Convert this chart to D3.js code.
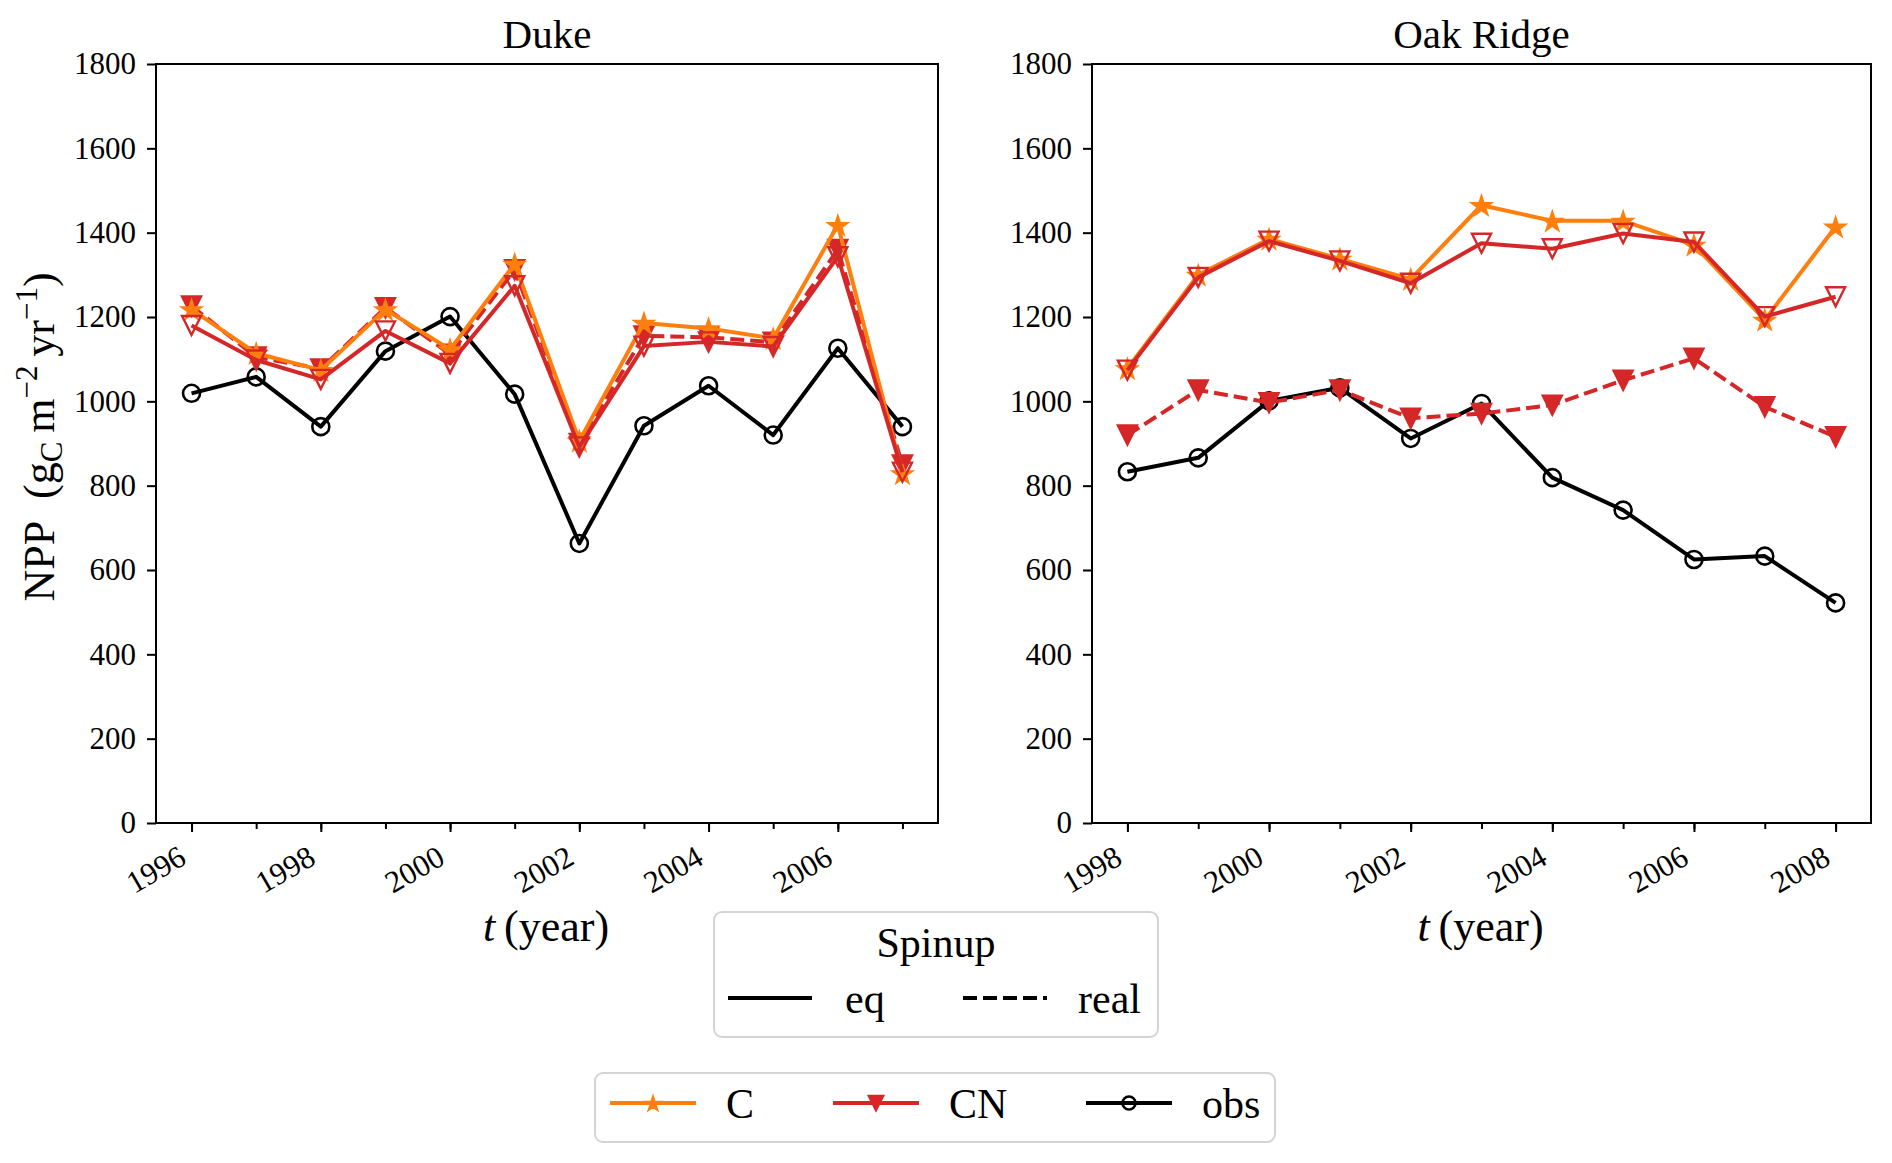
<!DOCTYPE html>
<html>
<head>
<meta charset="utf-8">
<script src="https://cdn.jsdelivr.net/npm/d3@7/dist/d3.min.js"></script>
<style>
  body { margin: 0; background: #fff; }
  svg { display: block; font-family: "Liberation Serif", "DejaVu Serif", serif; }
</style>
</head>
<body>
<svg id="chart" width="1892" height="1163"></svg>
<script>
// values (NPP, gC m-2 yr-1)
const dukeYears = [1996, 1997, 1998, 1999, 2000, 2001, 2002, 2003, 2004, 2005, 2006, 2007]
const dukeObs = [1019, 1058, 940, 1119, 1201, 1017, 663, 942, 1037, 920, 1126, 940]
const dukeC = [1218, 1114, 1074, 1218, 1123, 1326, 906, 1186, 1173, 1149, 1418, 829]
const dukeCNeq = [1180, 1098, 1052, 1167, 1090, 1274, 892, 1131, 1141, 1130, 1343, 832]
const dukeCNreal = [1226, 1105, 1077, 1222, 1112, 1312, 900, 1155, 1152, 1140, 1360, 849]

const oakYears = [1998, 1999, 2000, 2001, 2002, 2003, 2004, 2005, 2006, 2007, 2008]
const oakObs = [833, 866, 1001, 1032, 912, 995, 819, 742, 625, 633, 522]
const oakC = [1078, 1300, 1385, 1338, 1290, 1465, 1428, 1428, 1371, 1193, 1414]
const oakCNeq = [1074, 1294, 1380, 1333, 1280, 1375, 1362, 1398, 1378, 1201, 1248]
const oakCNreal = [920, 1027, 997, 1027, 960, 971, 991, 1050, 1102, 987, 916]

const yTicks = [0, 200, 400, 600, 800, 1000, 1200, 1400, 1600, 1800]
const dukeLabelYears = [1996, 1998, 2000, 2002, 2004, 2006]
const oakLabelYears = [1998, 2000, 2002, 2004, 2006, 2008]

const modelNames = ['C', 'CN', 'obs']
const spinupNames = ['eq', 'real']

const orange = '#ff7f0e', red = '#d62728'
const dash = '14,6'
const lineW = 4

const svg = d3.select('#chart')
const plotTop = 64, plotBottom = 823

const y = d3.scaleLinear().domain([0, 1800]).range([plotBottom, plotTop])

function marker(g, kind, cx, cy, color, small) {
    let s = small ? 0.75 : 1
    if (kind == 'star') {
        g.append('path')
            .attr('d', d3.symbol(d3.symbolStar, 135 * s * s)())
            .attr('transform', `translate(${cx},${cy + 1})`)
            .attr('fill', color).attr('stroke', color).attr('stroke-width', 1.5)
    } else if (kind == 'tri' || kind == 'triOpen') {
        let h = 9.5 * s
        g.append('path')
            .attr('d', `M0,${h}L${-h},${-h}L${h},${-h}Z`)
            .attr('transform', `translate(${cx},${cy})`)
            .attr('fill', kind == 'tri' ? color : 'none')
            .attr('stroke', color).attr('stroke-width', 2.4)
    } else {
        g.append('circle')
            .attr('cx', cx).attr('cy', cy).attr('r', (small ? 6.5 : 8.5))
            .attr('fill', 'none').attr('stroke', color).attr('stroke-width', 2.6)
    }
}

function drawPanel(left, right, years, domain, labelYears, title, series, withYLabel) {
    let x = d3.scaleLinear().domain(domain).range([left, right])
    let g = svg.append('g')

    // minor ticks every year
    g.append('g')
        .attr('transform', `translate(0,${plotBottom})`)
        .call(d3.axisBottom(x).tickValues(years).tickSize(6).tickFormat(''))
        .call(a => a.select('.domain').remove())
        .call(a => a.selectAll('line').attr('stroke-width', 2))

    let xa = g.append('g')
        .attr('transform', `translate(0,${plotBottom})`)
        .call(d3.axisBottom(x).tickValues(labelYears).tickSize(9).tickFormat(d3.format('d')))
    xa.select('.domain').remove()
    xa.selectAll('line').attr('stroke-width', 2)
    xa.selectAll('text')
        .attr('x', 0).attr('y', 0).attr('dy', null)
        .attr('text-anchor', 'end')
        .attr('transform', 'translate(-4,40) rotate(-30)')
        .style('font-size', '31px')
        .style('font-family', '"Liberation Serif", serif')
        .attr('fill', '#000')

    let ya = g.append('g')
        .attr('transform', `translate(${left},0)`)
        .call(d3.axisLeft(y).tickValues(yTicks).tickSize(9).tickPadding(11).tickFormat(d3.format('d')))
    ya.select('.domain').remove()
    ya.selectAll('line').attr('stroke-width', 2)
    ya.selectAll('text')
        .style('font-size', '31px')
        .style('font-family', '"Liberation Serif", serif')
        .attr('fill', '#000')

    // data lines
    let plot = g.append('g')
    series.forEach(s => {
        let line = d3.line().x((d, i) => x(years[i])).y(d => y(d))
        plot.append('path')
            .attr('d', line(s.values))
            .attr('fill', 'none')
            .attr('stroke', s.color)
            .attr('stroke-width', lineW)
            .attr('stroke-linejoin', 'round')
            .attr('stroke-dasharray', s.dashed ? dash : null)
        s.values.forEach((v, i) => marker(plot, s.marker, x(years[i]), y(v), s.color))
    })

    g.append('rect')
        .attr('x', left).attr('y', plotTop)
        .attr('width', right - left).attr('height', plotBottom - plotTop)
        .attr('fill', 'none').attr('stroke', '#000').attr('stroke-width', 2)

    g.append('text')
        .attr('x', (left + right) / 2).attr('y', 48)
        .attr('text-anchor', 'middle')
        .style('font-size', '41px')
        .text(title)

    let xl = g.append('text')
        .attr('x', (left + right) / 2 - 1).attr('y', 941)
        .attr('text-anchor', 'middle')
        .style('font-size', '44px')
    xl.append('tspan').style('font-style', 'italic').text('t')
    xl.append('tspan').text('\u2009(year)')

    if (withYLabel) {
        let yl = g.append('text')
            .attr('transform', 'translate(54,437) rotate(-90)')
            .attr('text-anchor', 'middle')
            .style('font-size', '44px')
        yl.append('tspan').text('NPP\u2002(g')
        yl.append('tspan').attr('dy', 8).style('font-size', '31px').text('C')
        yl.append('tspan').attr('dy', -8).text('\u2009m')
        yl.append('tspan').attr('dy', -17).style('font-size', '31px').text('−2')
        yl.append('tspan').attr('dy', 17).text('\u2009yr')
        yl.append('tspan').attr('dy', -17).style('font-size', '31px').text('−1')
        yl.append('tspan').attr('dy', 17).text(')')
    }
}

drawPanel(156, 938, dukeYears, [1995.45, 2007.55], dukeLabelYears, 'Duke', [
    { values: dukeObs, color: '#000', marker: 'circle', dashed: false },
    { values: dukeCNreal, color: red, marker: 'tri', dashed: true },
    { values: dukeC, color: orange, marker: 'star', dashed: false },
    { values: dukeCNeq, color: red, marker: 'triOpen', dashed: false }
], true)

drawPanel(1092, 1871, oakYears, [1997.5, 2008.5], oakLabelYears, 'Oak Ridge', [
    { values: oakObs, color: '#000', marker: 'circle', dashed: false },
    { values: oakCNreal, color: red, marker: 'tri', dashed: true },
    { values: oakC, color: orange, marker: 'star', dashed: false },
    { values: oakCNeq, color: red, marker: 'triOpen', dashed: false }
], false)

// legend: spinup
let leg1 = svg.append('g')
leg1.append('rect')
    .attr('x', 714).attr('y', 912).attr('width', 444).attr('height', 125).attr('rx', 8)
    .attr('fill', '#fff').attr('stroke', '#d4d4d4').attr('stroke-width', 2)
leg1.append('text')
    .attr('x', 936).attr('y', 957).attr('text-anchor', 'middle')
    .style('font-size', '42px').text('Spinup')
spinupNames.forEach((name, i) => {
    let x0 = [728, 963][i]
    leg1.append('line')
        .attr('x1', x0).attr('x2', x0 + 84).attr('y1', 998).attr('y2', 998)
        .attr('stroke', '#000').attr('stroke-width', lineW)
        .attr('stroke-dasharray', i == 1 ? dash : null)
    leg1.append('text')
        .attr('x', [845, 1078][i]).attr('y', 1013)
        .style('font-size', '42px').text(name)
})

// legend: models
let leg2 = svg.append('g')
leg2.append('rect')
    .attr('x', 595).attr('y', 1073).attr('width', 680).attr('height', 69).attr('rx', 8)
    .attr('fill', '#fff').attr('stroke', '#d4d4d4').attr('stroke-width', 2)
const legColors = [orange, red, '#000']
const legMarkers = ['star', 'tri', 'circle']
modelNames.forEach((name, i) => {
    let x0 = [610, 833, 1086][i]
    leg2.append('line')
        .attr('x1', x0).attr('x2', x0 + 86).attr('y1', 1103).attr('y2', 1103)
        .attr('stroke', legColors[i]).attr('stroke-width', lineW)
    marker(leg2, legMarkers[i], x0 + 43, 1103, legColors[i], true)
    leg2.append('text')
        .attr('x', [726, 949, 1202][i]).attr('y', 1118)
        .style('font-size', '42px').text(name)
})
</script>
</body>
</html>
